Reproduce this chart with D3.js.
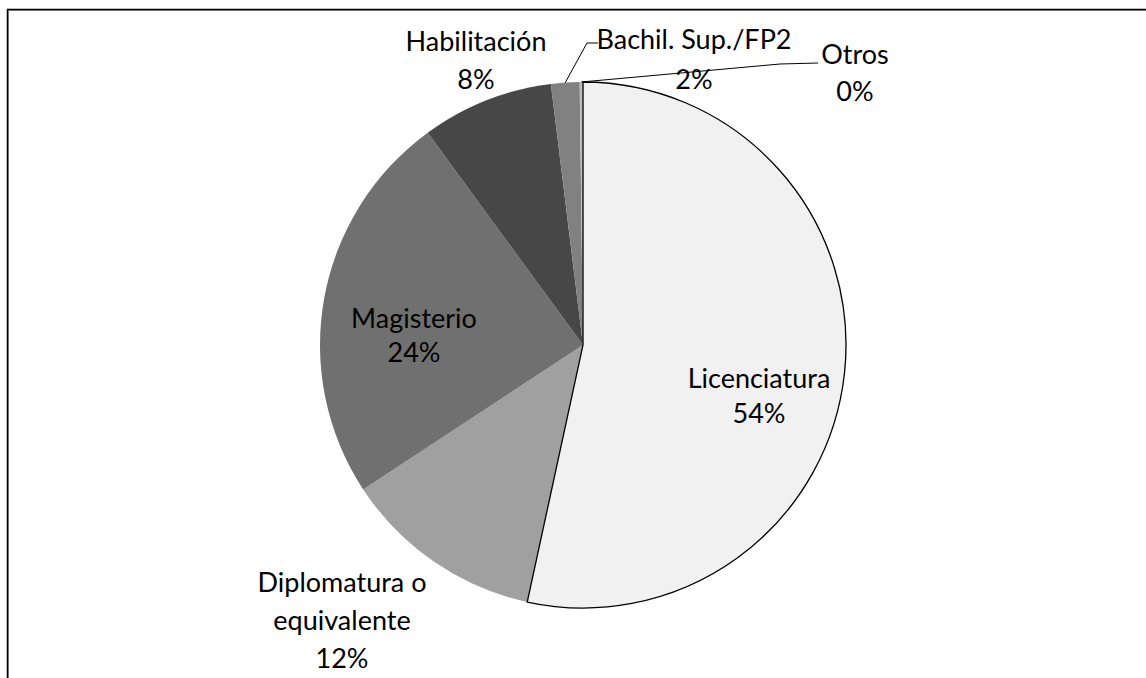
<!DOCTYPE html>
<html>
<head>
<meta charset="utf-8">
<script src="https://cdn.jsdelivr.net/npm/d3@7"></script>
<style>
  body { margin: 0; background: #fff; }
  text { font-family: Lato, "Open Sans", sans-serif; font-size: 27px; fill: #000; }
</style>
</head>
<body>
<div id="chart"></div>
<script>
// Data (shares in %, clockwise from 12 o'clock)
const categories = ["Licenciatura", "Diplomatura o equivalente", "Magisterio", "Habilitación", "Bachil. Sup./FP2", "Otros"];
const shares = [53.4, 12.35, 24.2, 8.1, 1.75, 0.2];
const pctLabels = ["54%", "12%", "24%", "8%", "2%", "0%"];
const labelLines = [["Licenciatura"], ["Diplomatura o", "equivalente"], ["Magisterio"], ["Habilitación"], ["Bachil. Sup./FP2"], ["Otros"]];
const fills = ["#f1f1f1", "#a0a0a0", "#707070", "#474747", "#818181", "#bdbdbd"];

const width = 1146, height = 678;
const cx = 583, cy = 345, radius = 263;

const svg = d3.select("#chart")
  .append("svg")
  .attr("width", width)
  .attr("height", height);

// Frame (only top and left edges are inside the picture)
svg.append("path")
  .attr("d", `M8.5,${height} V10.5 H${width}`)
  .attr("fill", "none")
  .attr("stroke", "#999")
  .attr("stroke-width", 1);
svg.append("path")
  .attr("d", `M7.5,${height} V9.5 H${width}`)
  .attr("fill", "none")
  .attr("stroke", "#000")
  .attr("stroke-width", 1.5);

const data = categories.map((c, i) => ({ name: c, value: shares[i], pct: pctLabels[i], lines: labelLines[i], fill: fills[i] }));

const pie = d3.pie().value(d => d.value).sort(null);
const arc = d3.arc().innerRadius(0).outerRadius(radius);
const arcs = pie(data);

const g = svg.append("g").attr("transform", `translate(${cx},${cy})`);

// Draw the slices, with the big one last so its outline sits on top
g.selectAll("path.slice")
  .data(arcs.filter(d => d.index !== 0))
  .enter().append("path")
  .attr("class", "slice")
  .attr("d", arc)
  .attr("fill", d => d.data.fill);

g.append("path")
  .datum(arcs[0])
  .attr("d", arc)
  .attr("fill", arcs[0].data.fill)
  .attr("stroke", "#000")
  .attr("stroke-width", 1.3);

// Label anchors (label centre, relative to pie centre)
const labelPos = [
  [176, 51],
  [-241, 276],
  [-169, -9],
  [-107, -284],
  [111, -285],
  [272, -272]
];

const lineHeights = [35, 38, 34, 38, 40, 37];
arcs.forEach((a, i) => {
  const lines = a.data.lines.concat([a.data.pct]);
  const [lx, ly] = labelPos[i];
  const lineH = lineHeights[i];
  const top = ly - (lines.length - 1) * lineH / 2;
  const t = g.append("text").attr("text-anchor", "middle");
  lines.forEach((s, k) => {
    t.append("tspan")
      .attr("x", lx)
      .attr("y", top + k * lineH)
      .attr("dy", "0.35em")
      .text(s);
  });
});

// Leader lines for the thin slices
const leader = (a, pts) => {
  const mid = (a.startAngle + a.endAngle) / 2;
  const p0 = [Math.sin(mid) * radius, -Math.cos(mid) * radius];
  g.append("path")
    .attr("d", d3.line()([p0].concat(pts)))
    .attr("fill", "none")
    .attr("stroke", "#000")
    .attr("stroke-width", 1);
};
leader(arcs[4], [[4, -302], [15, -302]]);
leader(arcs[5], [[197, -281], [235, -282]]);
</script>
</body>
</html>
